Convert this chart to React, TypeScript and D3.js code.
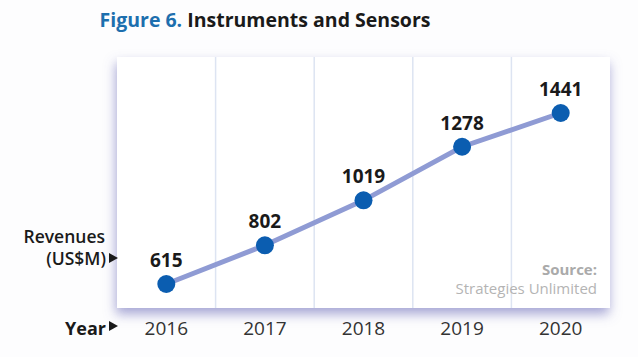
import React from "react";
import * as d3 from "d3";

const years = ["2016", "2017", "2018", "2019", "2020"];
const revenues = [615, 802, 1019, 1278, 1441];

const W = 638;
const H = 357;
const panel = { left: 117, right: 610, top: 57, bottom: 308 };

export default function App() {
  const x = d3
    .scaleBand<string>()
    .domain(years)
    .range([panel.left, panel.right])
    .padding(0);
  const y = d3.scaleLinear().domain([615, 1441]).range([284, 113]);
  const cx = (yr: string) => (x(yr) as number) + x.bandwidth() / 2;
  const data = years.map((yr, i) => ({ yr, v: revenues[i] }));
  const line = d3
    .line<{ yr: string; v: number }>()
    .x((d) => cx(d.yr))
    .y((d) => y(d.v));
  const font = "'Open Sans', 'Noto Sans', sans-serif";

  return (
    <svg
      width={W}
      height={H}
      style={{ position: "absolute", left: 0, top: 0, background: "#fdfdfe" }}
      fontFamily={font}
    >
      <defs>
        <filter id="sh" x="-10%" y="-15%" width="120%" height="135%">
          <feDropShadow dx="-1" dy="6" stdDeviation="6" floodColor="#6a6ab8" floodOpacity="0.6" />
        </filter>
      </defs>
      <text x={265} y={27} textAnchor="middle" fontSize={19.5} fontWeight="bold">
        <tspan fill="#1d6fae">Figure 6. </tspan>
        <tspan fill="#1a1a1a">Instruments and Sensors</tspan>
      </text>
      <rect
        x={panel.left}
        y={panel.top}
        width={panel.right - panel.left}
        height={panel.bottom - panel.top}
        fill="#ffffff"
        filter="url(#sh)"
      />
      {years.slice(1).map((yr) => (
        <line
          key={yr}
          x1={x(yr) as number}
          x2={x(yr) as number}
          y1={panel.top}
          y2={panel.bottom}
          stroke="#dde4f2"
          strokeWidth={1.5}
        />
      ))}
      <path d={line(data) || ""} fill="none" stroke="#8f9bd4" strokeWidth={5} />
      {data.map((d) => (
        <g key={d.yr}>
          <circle cx={cx(d.yr)} cy={y(d.v)} r={9} fill="#0b5db0" />
          <text
            x={cx(d.yr)}
            y={y(d.v) - 17}
            textAnchor="middle"
            fontSize={19}
            fontWeight="bold"
            fill="#1a1a1a"
          >
            {d.v}
          </text>
          <text
            x={cx(d.yr)}
            y={335}
            textAnchor="middle"
            fontSize={19}
            fill="#333333"
          >
            {d.yr}
          </text>
        </g>
      ))}
      <text x={597} y={275} textAnchor="end" fontSize={15} fontWeight="bold" fill="#aaaaaa">
        Source:
      </text>
      <text x={597} y={294} textAnchor="end" fontSize={15} fill="#b4b4b4">
        Strategies Unlimited
      </text>
      <text x={105} y={243} textAnchor="end" fontSize={17.5} fontWeight={600} fill="#1a1a1a">
        Revenues
      </text>
      <text x={106} y={265} textAnchor="end" fontSize={17.5} fontWeight={600} fill="#1a1a1a">
        (US$M)
      </text>
      <path d="M109,253 L118,258 L109,263 Z" fill="#1a1a1a" />
      <text x={106} y={335} textAnchor="end" fontSize={18} fontWeight="bold" fill="#1a1a1a">
        Year
      </text>
      <path d="M109,321 L118,326 L109,331 Z" fill="#1a1a1a" />
    </svg>
  );
}
